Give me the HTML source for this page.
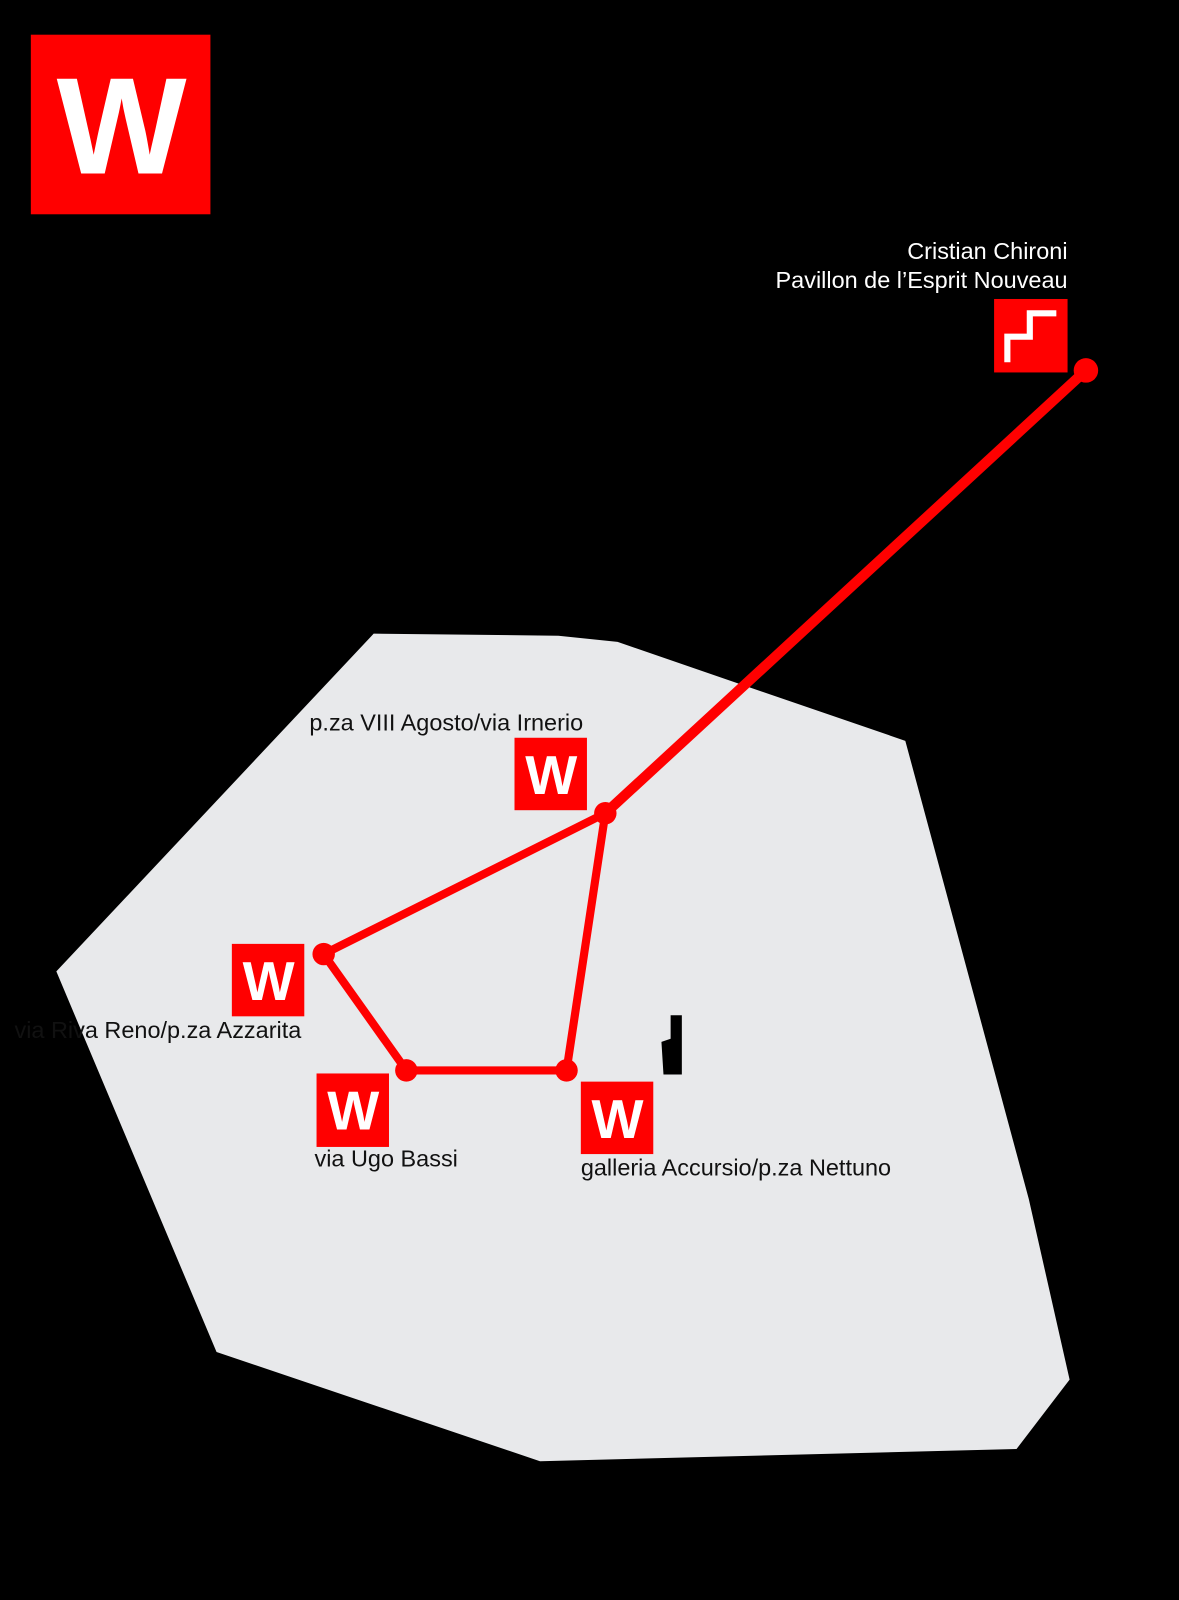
<!DOCTYPE html>
<html><head><style>html,body{margin:0;padding:0;background:#000;}svg{display:block}</style></head>
<body>
<svg width="1179" height="1600" viewBox="0 0 1155 1568" xmlns="http://www.w3.org/2000/svg" font-family="'Liberation Sans', Arial, sans-serif">
<rect width="1155" height="1568" fill="#000"/>
<rect x="30" y="34" width="176" height="176" fill="#f00"/>
<text x="119" y="170" font-size="135" font-weight="bold" fill="#fff" text-anchor="middle">W</text>
<text x="1046" y="254" font-size="23" fill="#fff" text-anchor="end">Cristian Chironi</text>
<text x="1046" y="282" font-size="23" fill="#fff" text-anchor="end">Pavillon de l’Esprit Nouveau</text>
<rect x="974" y="293" width="72" height="72" fill="#f00"/>
<polyline points="987,355 987,330 1009,330 1009,307 1035,307" fill="none" stroke="#fff" stroke-width="6"/>
<polygon points="366,621 547,623 605,629 718,668 887,726 1008,1175 1048,1352 996,1420 529,1432 212,1325 55,952" fill="#e8e9eb"/>
<g stroke="#f00" stroke-linecap="round" fill="none">
<line x1="1064" y1="363" x2="593" y2="797" stroke-width="10"/>
<polyline points="593,797 317,935 398,1049 555,1049 593,797" stroke-width="8" stroke-linejoin="round"/>
</g>
<g fill="#f00">
<circle cx="1064" cy="363" r="12"/>
<circle cx="593" cy="797" r="11"/>
<circle cx="317" cy="935" r="11"/>
<circle cx="398" cy="1049" r="11"/>
<circle cx="555" cy="1049" r="11"/>
<rect x="504" y="723" width="71" height="71"/>
<rect x="227" y="925" width="71" height="71"/>
<rect x="310" y="1052" width="71" height="72"/>
<rect x="569" y="1060" width="71" height="71"/>
</g>
<g fill="#fff" font-size="54" font-weight="bold" text-anchor="middle">
<text x="540" y="778">W</text>
<text x="263" y="980">W</text>
<text x="346" y="1107">W</text>
<text x="605" y="1115">W</text>
</g>
<g font-size="23" fill="#111">
<text x="303" y="716">p.za VIII Agosto/via Irnerio</text>
<text x="14" y="1017">via Riva Reno/p.za Azzarita</text>
<text x="308" y="1143">via Ugo Bassi</text>
<text x="569" y="1152">galleria Accursio/p.za Nettuno</text>
</g>
<polygon points="657,995 668,995 668,1053 657,1053 650,1053 648,1021 657,1018" fill="#000"/>
</svg>
</body></html>
